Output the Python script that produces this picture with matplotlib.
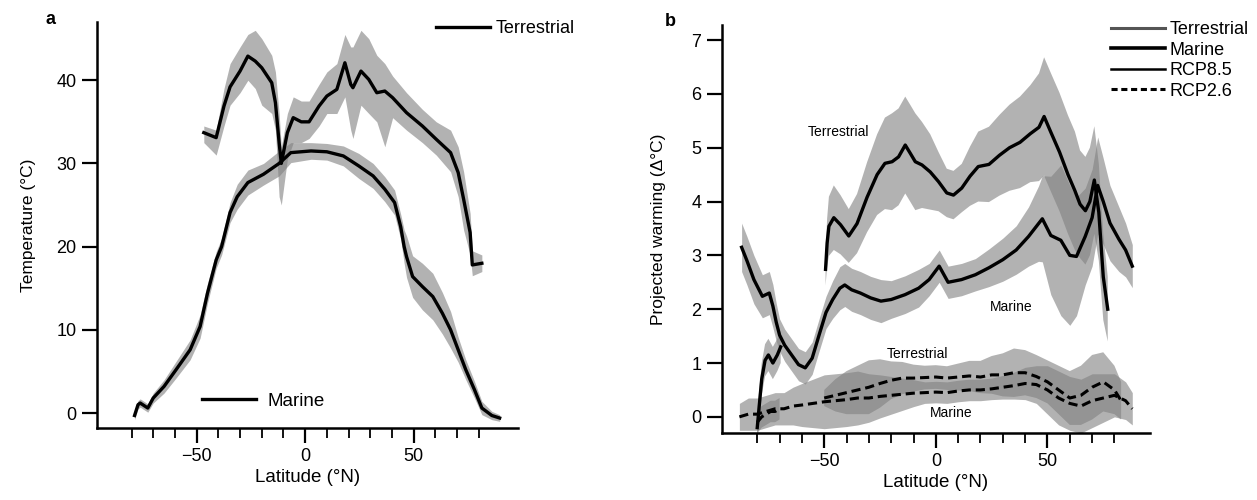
import matplotlib
matplotlib.use("Agg")
import matplotlib.pyplot as plt
import numpy as np
from matplotlib.lines import Line2D

plt.rcParams['font.family'] = ['Liberation Sans', 'DejaVu Sans']

# ---- panel a: temperature by latitude ----
lat_a_terr = [-46.7, -41, -37.4, -34.6, -30, -26.4, -23, -20, -15.4, -13.7, -12, -11, -8.2, -5.5,
              -1.8, 1.8, 6.4, 10, 14.6, 18.3, 21, 22, 25.7, 29.3, 33, 36.7, 40.3, 46.7, 54, 60.4,
              67, 70.5, 73, 76, 77, 81.4]
temp_a_terr = [33.7, 33.1, 36.9, 39.2, 41.1, 42.9, 42.3, 41.5, 39.7, 37.3, 32.5, 30, 33.7, 35.5,
               35, 35, 36.9, 38.1, 38.9, 42.1, 39.5, 39.1, 41.1, 40.1, 38.5, 38.7, 37.9, 36.1, 34.5, 32.9,
               31.3, 28.9, 25.7, 21.7, 17.8, 18]
hi_a_terr = [34.5, 34, 39, 42, 44, 45.5, 46, 45, 43, 41, 36, 32, 36, 38,
             37.5, 37.5, 39.5, 41, 42, 45.5, 44, 44, 46, 45, 43, 42, 40.5, 38.5, 36.5, 35,
             34, 32, 29, 24, 19.5, 19]
lo_a_terr = [32.5, 31, 34.5, 37, 38.5, 40, 39, 37, 36, 34, 26, 25, 30.5, 32.5,
             32.5, 33, 34.5, 36, 36, 38, 34, 33, 37, 36, 35, 32, 35.5, 34, 32.5, 31,
             29, 26, 22, 19, 16.5, 17]

lat_a_mar = [-78.6, -77, -76, -72.5, -70, -65, -59.5, -53, -48.4, -45, -41, -38.5, -34.6, -31.3,
             -26.4, -19.2, -12, -6.6, 2.7, 10, 17.6, 24.7, 31.3, 36.7, 41.2, 44, 45.6, 46.7, 49.5,
             54, 58.8, 63.2, 67, 70.5, 74, 78, 81.4, 86, 89.6]
temp_a_mar = [-0.3, 1, 1.2, 0.6, 1.8, 3.2, 5.2, 7.6, 10.4, 14.4, 18.4, 20, 24.1, 26,
              27.7, 28.7, 30, 31.3, 31.5, 31.4, 30.9, 29.7, 28.5, 26.9, 25.3, 22.4, 20, 18.8, 16.4,
              15.2, 14, 12, 10, 7.6, 5.2, 2.8, 0.6, -0.3, -0.6]
spread_a_mar = [0.5, 0.5, 0.5, 0.5, 0.6, 0.8, 1.0, 1.2, 1.4, 1.2, 1.0, 1.0, 1.2, 1.5,
                1.5, 1.3, 1.5, 1.2, 1.0, 1.0, 1.2, 1.5, 1.5, 1.5, 1.5, 1.5, 2.0, 2.5, 2.5,
                2.8, 2.8, 2.5, 2.2, 1.5, 1.2, 1.0, 0.8, 0.5, 0.4]

# ---- panel b: projected warming ----
nan = np.nan
lat_b_terr85 = [-80, -78, -76.5, -75, -73, -71, -69.5, nan,
                -49.4, -48.7, -47.9, -45.7, -42.7, -39, -35.3, -30.8, -26.3, -22.8,
                -19.6, -16.7, -13.7, -11.5, -9.2, -6.2, -2.5, 1.2, 4.9, 7.9,
                11.6, 15.3, 19, 23.8, 28.5, 33, 37.7, 42.3, 46.2, 48.5,
                51.5, 55.4, 59.2, 62.3, 64.6, 67, 69, 71, 73, 75, 77]
warm_b_terr85 = [-0.2, 0.7, 1.05, 1.15, 1.0, 1.15, 1.3, nan,
                 2.74, 3.23, 3.54, 3.7, 3.57, 3.36, 3.59, 4.08, 4.5, 4.71,
                 4.74, 4.83, 5.05, 4.9, 4.74, 4.68, 4.55, 4.37, 4.16, 4.12,
                 4.25, 4.47, 4.65, 4.69, 4.86, 5.0, 5.1, 5.26, 5.38, 5.58,
                 5.29, 4.92, 4.5, 4.2, 3.95, 3.83, 4.0, 4.4, 3.8, 2.6, 2.0]
spread_b_terr85 = [0.3, 0.3, 0.3, 0.3, 0.3, 0.3, 0.3, nan,
                   0.3, 0.45, 0.55, 0.6, 0.55, 0.5, 0.55, 0.65, 0.75, 0.85,
                   0.9, 0.9, 0.9, 0.9, 0.9, 0.8, 0.7, 0.55, 0.45, 0.45,
                   0.45, 0.55, 0.65, 0.7, 0.75, 0.8, 0.85, 0.9, 1.0, 1.1,
                   1.1, 1.1, 1.1, 1.1, 1.0, 1.0, 1.0, 1.0, 0.9, 0.8, 0.6]

lat_b_mar85 = [-87, -84.6, -81.5, -77.7, -74.6, -73, -71.5, -70, -67.7, -64.6,
               -61.5, -58.5, -55.4, -52.3, -49.2, -46.2, -43, -40.8, -37.7, -33.8,
               -29.2, -24.6, -20, -13.8, -7.7, -3, 1.5, 5.5, 11.5, 17.7,
               23.8, 30, 36, 41.5, 46, 47.7, 51.5, 56, 60, 63,
               66.9, 70, 72.5, 75, 78, 82, 85, 88]
warm_b_mar85 = [3.15, 2.9, 2.55, 2.24, 2.3, 2.06, 1.76, 1.52, 1.33, 1.15,
                0.97, 0.91, 1.09, 1.52, 1.94, 2.18, 2.39, 2.45, 2.36, 2.3,
                2.21, 2.15, 2.18, 2.27, 2.39, 2.55, 2.8, 2.5, 2.55, 2.64,
                2.77, 2.92, 3.1, 3.35, 3.59, 3.68, 3.37, 3.28, 3.0, 2.98,
                3.35, 3.7, 4.3, 4.0, 3.6, 3.3, 3.1, 2.8]
spread_b_mar85 = [0.45, 0.45, 0.45, 0.4, 0.4, 0.4, 0.35, 0.3, 0.3, 0.3,
                  0.3, 0.3, 0.3, 0.3, 0.3, 0.35, 0.4, 0.4, 0.4, 0.4,
                  0.4, 0.4, 0.35, 0.35, 0.35, 0.3, 0.3, 0.3, 0.3, 0.3,
                  0.35, 0.4, 0.45, 0.55, 0.7, 0.8, 1.1, 1.4, 1.3, 1.1,
                  0.9, 0.9, 0.9, 0.8, 0.7, 0.6, 0.5, 0.4]

lat_b_terr26 = [-80, -78, -76, -74, -72, -70, nan,
                -50, -45, -40, -35, -30, -25, -20, -15, -10, -5,
                0, 5, 10, 15, 20, 25, 30, 35, 40, 45,
                50, 55, 60, 65, 70, 75, 80, 83]
warm_b_terr26 = [-0.1, 0.0, 0.05, 0.1, 0.1, 0.15, nan,
                 0.35, 0.4, 0.45, 0.5, 0.55, 0.62, 0.68, 0.72, 0.72, 0.73,
                 0.74, 0.72, 0.74, 0.76, 0.74, 0.78, 0.78, 0.82, 0.82, 0.75,
                 0.65, 0.5, 0.35, 0.4, 0.55, 0.65, 0.5, 0.3]
spread_b_terr26 = [0.2, 0.2, 0.2, 0.2, 0.2, 0.2, nan,
                   0.15, 0.3, 0.4, 0.45, 0.5, 0.45, 0.35, 0.3, 0.25, 0.22,
                   0.22, 0.22, 0.25, 0.28, 0.3, 0.35, 0.4, 0.45, 0.42, 0.4,
                   0.4, 0.45, 0.5, 0.55, 0.6, 0.55, 0.45, 0.35]

lat_b_mar26 = [-88, -84, -80, -76, -72, -68, -64, -60, -55, -50,
               -45, -40, -35, -30, -25, -20, -15, -10, -5, 0,
               5, 10, 15, 20, 25, 30, 35, 40, 45, 50,
               55, 60, 65, 70, 75, 80, 85, 88]
warm_b_mar26 = [0.0, 0.05, 0.05, 0.1, 0.15, 0.15, 0.2, 0.22, 0.25, 0.28,
                0.3, 0.32, 0.35, 0.35, 0.38, 0.4, 0.42, 0.44, 0.45, 0.46,
                0.45, 0.48, 0.5, 0.5, 0.52, 0.55, 0.58, 0.62, 0.6, 0.5,
                0.35, 0.25, 0.2, 0.3, 0.35, 0.4, 0.3, 0.15]
spread_b_mar26 = [0.25, 0.3, 0.3, 0.3, 0.3, 0.3, 0.35, 0.4, 0.45, 0.5,
                  0.5, 0.5, 0.5, 0.45, 0.4, 0.35, 0.3, 0.25, 0.2, 0.2,
                  0.2, 0.2, 0.2, 0.2, 0.2, 0.22, 0.25, 0.3, 0.35, 0.45,
                  0.5, 0.5, 0.5, 0.5, 0.45, 0.4, 0.35, 0.3]

band_col = '#808080'
band_alpha = 0.6


def style_axes(ax):
    for s in ['top', 'right']:
        ax.spines[s].set_visible(False)
    for s in ['left', 'bottom']:
        ax.spines[s].set_linewidth(1.8)
    ax.set_xticks([-50, 0, 50])
    ax.set_xticks([-80, -70, -60, -40, -30, -20, -10, 10, 20, 30, 40, 60, 70, 80], minor=True)
    ax.tick_params(which='major', direction='out', length=11, width=1.6, labelsize=13)
    ax.tick_params(which='minor', direction='out', length=7, width=1.3)
    ax.tick_params(axis='y', which='minor', length=0)
    ax.set_xlabel('Latitude (°N)', fontsize=13.5, labelpad=3)


def band(ax, x, y, w, **kw):
    x = np.asarray(x, float)
    y = np.asarray(y, float)
    w = np.asarray(w, float)
    ax.fill_between(x, y - w, y + w, color=band_col, alpha=band_alpha, lw=0)
    ax.plot(x, y, color='black', **kw)


fig = plt.figure(figsize=(12.57, 5.0), dpi=100)

# panel a
ax1 = fig.add_axes([0.077, 0.144, 0.335, 0.812])
ax1.fill_between(lat_a_terr, lo_a_terr, hi_a_terr, color=band_col, alpha=band_alpha, lw=0)
ax1.plot(lat_a_terr, temp_a_terr, color='black', lw=2.4)
band(ax1, lat_a_mar, temp_a_mar, spread_a_mar, lw=2.4)
ax1.set_xlim(-96, 98)
ax1.set_ylim(-1.8, 47)
ax1.set_yticks([0, 10, 20, 30, 40])
style_axes(ax1)
ax1.set_ylabel('Temperature (°C)', fontsize=12.5, labelpad=15)

leg_t = ax1.legend([Line2D([], [], color='black', lw=2.4)], ['Terrestrial'],
                   loc='upper left', bbox_to_anchor=(0.805, 1.005), frameon=False,
                   fontsize=13, handlelength=3.0, handletextpad=0.3, borderpad=0, borderaxespad=0)
ax1.add_artist(leg_t)
ax1.legend([Line2D([], [], color='black', lw=2.4)], ['Marine'],
           loc='center left', bbox_to_anchor=(0.25, 0.066), frameon=False,
           fontsize=13.5, handlelength=2.9, handletextpad=0.6, borderpad=0, borderaxespad=0)
fig.text(0.036, 0.96, 'a', fontsize=13, fontweight='bold', ha='left', va='center')

# panel b
ax2 = fig.add_axes([0.574, 0.134, 0.341, 0.816])
band(ax2, lat_b_terr26, warm_b_terr26, spread_b_terr26, lw=2.2, ls=(0, (3, 1.6)))
band(ax2, lat_b_mar26, warm_b_mar26, spread_b_mar26, lw=2.2, ls=(0, (3, 1.6)))
band(ax2, lat_b_mar85, warm_b_mar85, spread_b_mar85, lw=2.4)
band(ax2, lat_b_terr85, warm_b_terr85, spread_b_terr85, lw=2.4)
ax2.set_xlim(-96, 96)
ax2.set_ylim(-0.3, 7.28)
ax2.set_yticks(range(0, 8))
style_axes(ax2)
ax2.set_ylabel('Projected warming (Δ°C)', fontsize=12.5, labelpad=18)

ax2.text(-43.5, 5.3, 'Terrestrial', fontsize=10, ha='center', va='center')
ax2.text(33.6, 2.04, 'Marine', fontsize=10, ha='center', va='center')
ax2.text(-8, 1.16, 'Terrestrial', fontsize=10, ha='center', va='center')
ax2.text(7, 0.07, 'Marine', fontsize=10, ha='center', va='center')

handles = [Line2D([], [], color='#555555', lw=2.2),
           Line2D([], [], color='black', lw=2.6),
           Line2D([], [], color='black', lw=1.8),
           Line2D([], [], color='black', lw=2.2, ls=(0, (2, 1.2)))]
ax2.legend(handles, ['Terrestrial', 'Marine', 'RCP8.5', 'RCP2.6'],
           loc='upper left', bbox_to_anchor=(0.909, 1.01), frameon=False,
           fontsize=13, handlelength=3.0, handletextpad=0.25, labelspacing=0.2,
           borderpad=0, borderaxespad=0)
fig.text(0.529, 0.956, 'b', fontsize=13, fontweight='bold', ha='left', va='center')

fig.savefig('out.png', dpi=100)
